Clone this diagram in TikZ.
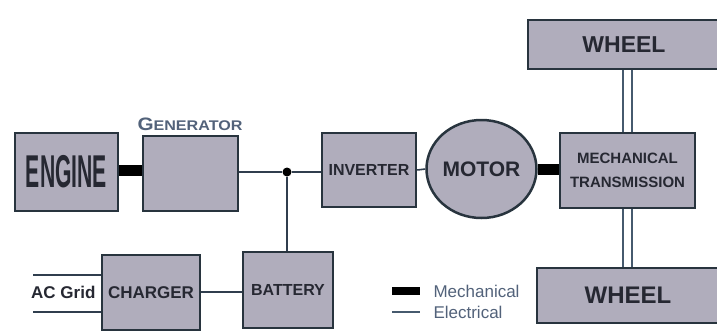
\documentclass[tikz,border=0pt]{standalone}
\usepackage{fontspec}
\setmainfont{Liberation Sans}
\usepackage{xcolor}
\usepackage{graphicx}
\usetikzlibrary{shapes.geometric}
\definecolor{boxfill}{RGB}{176,173,188}
\definecolor{boxline}{RGB}{40,52,62}
\definecolor{boxtext}{RGB}{38,40,50}
\definecolor{elecline}{RGB}{48,62,78}
\definecolor{shaftline}{RGB}{70,90,110}
\definecolor{legtext}{RGB}{82,98,122}

\begin{document}
\begin{tikzpicture}[x=1pt, y=-1pt,
  box/.style={rectangle, draw=boxline, line width=2.5pt, fill=boxfill, inner sep=0pt, text=boxtext, font=\bfseries},
  elec/.style={draw=elecline, line width=1.6pt},
  mech/.style={draw=black, line width=11pt},
  shaft/.style={draw=shaftline, line width=2pt, double=white, double distance=7pt}]
  \useasboundingbox[fill=white] (0,0) rectangle (717,333);

  \node[box, minimum width=103pt, minimum height=78pt] (engine) at (66.5,172) {\fontsize{46}{46}\selectfont\scalebox{0.46}[1]{ENGINE}};
  \node[box, minimum width=95pt, minimum height=75pt] (gen) at (190.5,173.5) {};
  \node[text=legtext, font=\bfseries] (genlabel) at (190,124) {\scalebox{1.15}[1]{\fontsize{18}{18}\selectfont G\fontsize{14}{14}\selectfont ENERATOR}};
  \node[box, minimum width=94pt, minimum height=74pt] (inv) at (369,170) {\fontsize{16}{16}\selectfont INVERTER};
  \node[box, ellipse, minimum width=77pt, minimum height=98pt] (motor) at (481.5,169) {\fontsize{21}{21}\selectfont MOTOR};
  \node[box, minimum width=135pt, minimum height=75pt, align=center, font=\bfseries\fontsize{15}{24}\selectfont] (trans) at (627.5,170.5) {MECHANICAL\\TRANSMISSION};
  \node[box, minimum width=192pt, minimum height=49pt] (wheeltop) at (624,44.5) {\fontsize{23}{23}\selectfont WHEEL};
  \node[box, minimum width=182pt, minimum height=55pt] (wheelbot) at (628,295.5) {\fontsize{24}{24}\selectfont WHEEL};
  \node[box, minimum width=98pt, minimum height=75pt] (charger) at (151,292.5) {\fontsize{17}{17}\selectfont CHARGER};
  \node[box, minimum width=90pt, minimum height=76pt] (battery) at (288,290) {\fontsize{16}{16}\selectfont BATTERY};
  \node[circle, fill=black, inner sep=0pt, minimum size=9pt] (junc) at (287,172) {};
  \node[anchor=west, text=boxtext, font=\bfseries\fontsize{17}{17}\selectfont, inner sep=0pt] (acgrid) at (31,292) {AC Grid};
  \coordinate (gridtop) at (33,275);
  \coordinate (gridbot) at (33,312);

  \draw[mech] (engine.east |- 0,170) -- (gen.west |- 0,170);
  \draw[elec] (gen.east |- junc) -- (junc);
  \draw[elec] (junc) -- (inv.west |- junc);
  \draw[elec] (junc) -- (junc |- battery.north);
  \draw[elec] (inv.east) -- (motor.west);
  \draw[mech] (motor.east) -- (trans.west |- motor.east);
  \draw[shaft] (trans.north) -- (trans.north |- wheeltop.south);
  \draw[shaft] (trans.south) -- (trans.south |- wheelbot.north);
  \draw[elec] (charger.east |- acgrid) -- (battery.west |- acgrid);
  \draw[elec] (gridtop) -- (gridtop -| charger.west);
  \draw[elec] (gridbot) -- (gridbot -| charger.west);

  \node[rectangle, fill=black, minimum width=28pt, minimum height=8pt, inner sep=0pt] (mechleg) at (406,291) {};
  \node[anchor=west, text=legtext, font=\fontsize{17}{17}\selectfont] (mechtext) at (430,291) {Mechanical};
  \coordinate (elecstart) at (392,312);
  \coordinate (elecend) at (420,312);
  \node[anchor=west, text=legtext, font=\fontsize{17}{17}\selectfont] (electext) at (430,312) {Electrical};
  \draw[draw=shaftline, line width=1.6pt] (elecstart) -- (elecend);
\end{tikzpicture}
\end{document}
